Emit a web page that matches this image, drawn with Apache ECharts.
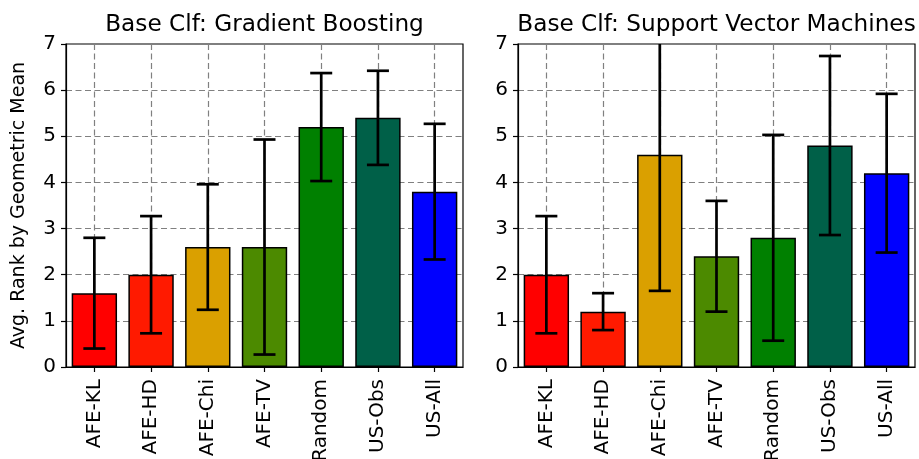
<!DOCTYPE html>
<html><head><meta charset="utf-8">
<script src="https://cdn.jsdelivr.net/npm/echarts@6/dist/echarts.min.js"></script>
<style>html,body{margin:0;padding:0;background:#fff}#c{width:919px;height:459px}</style>
</head><body><div id="c"></div><script>
const categories = ['AFE-KL','AFE-HD','AFE-Chi','AFE-TV','Random','US-Obs','US-All'];
const barColors = ['#ff0000','#ff1a00','#daa000','#4c8a00','#008000','#006048','#0000ff'];
const gbMeans = [1.6, 2.0, 2.6, 2.6, 5.2, 5.4, 3.8];
const gbErrors = [1.2, 1.27, 1.36, 2.33, 1.17, 1.02, 1.47];
const svmMeans = [2.0, 1.2, 4.6, 2.4, 2.8, 4.8, 4.2];
const svmErrors = [1.27, 0.4, 2.95, 1.2, 2.23, 1.94, 1.72];
const panelTitles = ['Base Clf: Gradient Boosting', 'Base Clf: Support Vector Machines'];
const yLabel = 'Avg. Rank by Geometric Mean';
const yMin = 0, yMax = 7, yStep = 1;

const FONT = 'DejaVu Sans';
const grids = [
  {left: 66, top: 44, width: 397, height: 323},
  {left: 518, top: 44, width: 397, height: 323}
];
const chart = echarts.init(document.getElementById('c'), null, {renderer: 'canvas'});

function xAxisFor(i) {
  return {
    type: 'category', gridIndex: i, data: categories,
    axisLine: {show: true, lineStyle: {color: '#000', width: 1.2}},
    axisTick: {show: true, alignWithLabel: true, length: 5, lineStyle: {color: '#000', width: 1.2}},
    axisLabel: {rotate: 90, margin: 12, color: '#000', fontFamily: FONT, fontSize: 20, interval: 0},
    splitLine: {show: true, alignWithLabel: true, lineStyle: {color: '#808080', type: [6, 3.5], width: 1.2}}
  };
}
function yAxisFor(i) {
  return {
    type: 'value', gridIndex: i, min: yMin, max: yMax, interval: yStep,
    name: i === 0 ? yLabel : '', nameLocation: 'middle', nameGap: 37,
    nameTextStyle: {color: '#000', fontFamily: FONT, fontSize: 19},
    axisLine: {show: true, lineStyle: {color: '#000', width: 1.2}},
    axisTick: {show: true, length: 5, lineStyle: {color: '#000', width: 1.2}},
    axisLabel: {margin: 10, color: '#000', fontFamily: FONT, fontSize: 20},
    splitLine: {show: true, lineStyle: {color: '#808080', type: [6, 3.5], width: 1.2}}
  };
}
function barSeries(i, means) {
  return {
    type: 'bar', xAxisIndex: i, yAxisIndex: i, barWidth: '80%', z: 2,
    data: means.map((v, k) => ({value: v, itemStyle: {color: barColors[k], borderColor: '#000', borderWidth: 1.5}})),
    silent: true, animation: false
  };
}
function errSeries(i, means, errs) {
  return {
    type: 'custom', xAxisIndex: i, yAxisIndex: i, z: 5, clip: true, animation: false, silent: true,
    data: means.map((v, k) => [k, v, errs[k]]),
    encode: {x: 0, y: 1},
    renderItem: function (params, api) {
      const x = api.value(0), m = api.value(1), e = api.value(2);
      const t = api.coord([x, m + e]);
      const b = api.coord([x, m - e]);
      const cap = 11;
      const st = {stroke: '#000', lineWidth: 2.7};
      return {type: 'group', children: [
        {type: 'line', shape: {x1: t[0], y1: t[1], x2: b[0], y2: b[1]}, style: st},
        {type: 'line', shape: {x1: t[0] - cap, y1: t[1], x2: t[0] + cap, y2: t[1]}, style: st},
        {type: 'line', shape: {x1: b[0] - cap, y1: b[1], x2: b[0] + cap, y2: b[1]}, style: st}
      ]};
    }
  };
}

chart.setOption({
  animation: false,
  backgroundColor: '#fff',
  grid: grids.map(g => Object.assign({show: true, borderColor: '#000', borderWidth: 1.2, backgroundColor: 'transparent', containLabel: false, outerBoundsMode: 'none'}, g)),
  xAxis: [xAxisFor(0), xAxisFor(1)],
  yAxis: [yAxisFor(0), yAxisFor(1)],
  graphic: panelTitles.map((t, i) => ({
    type: 'text', x: grids[i].left + grids[i].width / 2, y: 25,
    style: {text: t, fill: '#000', font: '23.2px "DejaVu Sans"', align: 'center', verticalAlign: 'middle', textAlign: 'center', textVerticalAlign: 'middle'}
  })),
  series: [
    barSeries(0, gbMeans), errSeries(0, gbMeans, gbErrors),
    barSeries(1, svmMeans), errSeries(1, svmMeans, svmErrors)
  ]
});
</script></body></html>
